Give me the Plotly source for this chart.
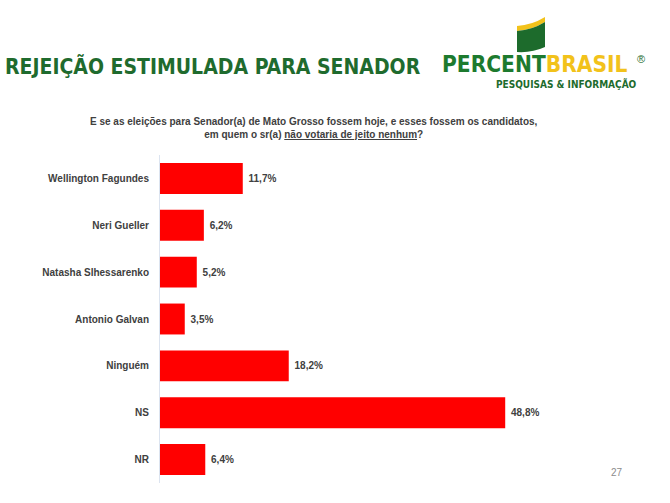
import plotly.graph_objects as go

# dados
candidatos = ['Wellington Fagundes', 'Neri Gueller', 'Natasha Slhessarenko',
              'Antonio Galvan', 'Ninguém', 'NS', 'NR']
rejeicao = [11.7, 6.2, 5.2, 3.5, 18.2, 48.8, 6.4]
rotulos = [f'{v:.1f}%'.replace('.', ',') for v in rejeicao]

W, H = 670, 503
L, R, T, B = 160, 70, 155, 20

def px(x):  # pixel -> paper x
    return (x - L) / (W - L - R)

def py(y):  # pixel -> paper y
    return (H - B - y) / (H - T - B)

verde = '#1f6b2e'
cinza = '#404040'
fonte = 'Liberation Sans'
narrow = 'DejaVu Sans Condensed'

fig = go.Figure()
fig.add_trace(go.Bar(
    x=rejeicao, y=candidatos, orientation='h',
    marker=dict(color='#ff0000', line=dict(width=0)),
    text=['\u00a0<b>%s</b>' % t for t in rotulos], textposition='outside', cliponaxis=False,
    textfont=dict(family=fonte, size=10, color=cinza),
))

# bandeirinha do logo
amarelo_path = (f'M {px(517)},{py(26)} Q {px(532)},{py(25)} {px(545)},{py(17)} '
                f'L {px(545)},{py(22)} Q {px(532)},{py(30)} {px(517)},{py(31)} Z')
verde_path = (f'M {px(517)},{py(31)} Q {px(532)},{py(30)} {px(545)},{py(22)} '
              f'L {px(545)},{py(47)} Q {px(532)},{py(53)} {px(517)},{py(52)} Z')

fig.update_layout(
    width=W, height=H,
    margin=dict(l=L, r=R, t=T, b=B),
    paper_bgcolor='white', plot_bgcolor='white',
    showlegend=False, bargap=0.34,
    xaxis=dict(range=[0, 62.2], visible=False),
    yaxis=dict(autorange='reversed', showline=True, linecolor='#dce4f0', linewidth=1,
               showgrid=False, ticks='', ticklabelstandoff=8,
               tickvals=candidatos, ticktext=['<b>%s</b>' % c for c in candidatos],
               tickfont=dict(family=fonte, size=10, color=cinza)),
    font=dict(family=fonte),
    shapes=[
        dict(type='path', xref='paper', yref='paper', path=amarelo_path,
             fillcolor='#f2c21b', line=dict(width=0)),
        dict(type='path', xref='paper', yref='paper', path=verde_path,
             fillcolor='#1d6b2c', line=dict(width=0)),
    ],
    annotations=[
        dict(text='<b>REJEIÇÃO ESTIMULADA PARA SENADOR</b>', x=px(3), y=py(66),
             xref='paper', yref='paper', xanchor='left', yanchor='middle', showarrow=False,
             font=dict(family=narrow, size=21, color=verde)),
        dict(text='<b>PERCENT<span style="color:#f2c21b">BRASIL</span></b>', x=px(440), y=py(64),
             xref='paper', yref='paper', xanchor='left', yanchor='middle', showarrow=False,
             font=dict(family=narrow, size=22.5, color='#1d7a2e')),
        dict(text='®', x=px(647), y=py(51), xref='paper', yref='paper', showarrow=False,
             font=dict(family=fonte, size=11, color='#1d6b2c')),
        dict(text='<b>PESQUISAS & INFORMAÇÃO</b>', x=px(639), y=py(84),
             xref='paper', yref='paper', xanchor='right', yanchor='middle', showarrow=False,
             font=dict(family=narrow, size=10, color='#1d6b2c')),
        dict(text='<b>E se as eleições para Senador(a) de Mato Grosso fossem hoje, e esses fossem os candidatos,</b>'
                  '<br><b>em quem o sr(a) <span style="text-decoration:underline">não votaria de jeito nenhum</span>?</b>',
             x=px(314), y=py(128), xref='paper', yref='paper', xanchor='center', yanchor='middle',
             showarrow=False, align='center',
             font=dict(family=fonte, size=10, color=cinza)),
        dict(text='27', x=px(625), y=py(480), xref='paper', yref='paper', showarrow=False,
             font=dict(family=fonte, size=10, color='#8c8c8c')),
    ],
)

# tira a margem padrao do body para o grafico ocupar a janela toda
fig.write_html('out.html', config={'displayModeBar': False},
               post_script="document.body.style.margin = '0';")
